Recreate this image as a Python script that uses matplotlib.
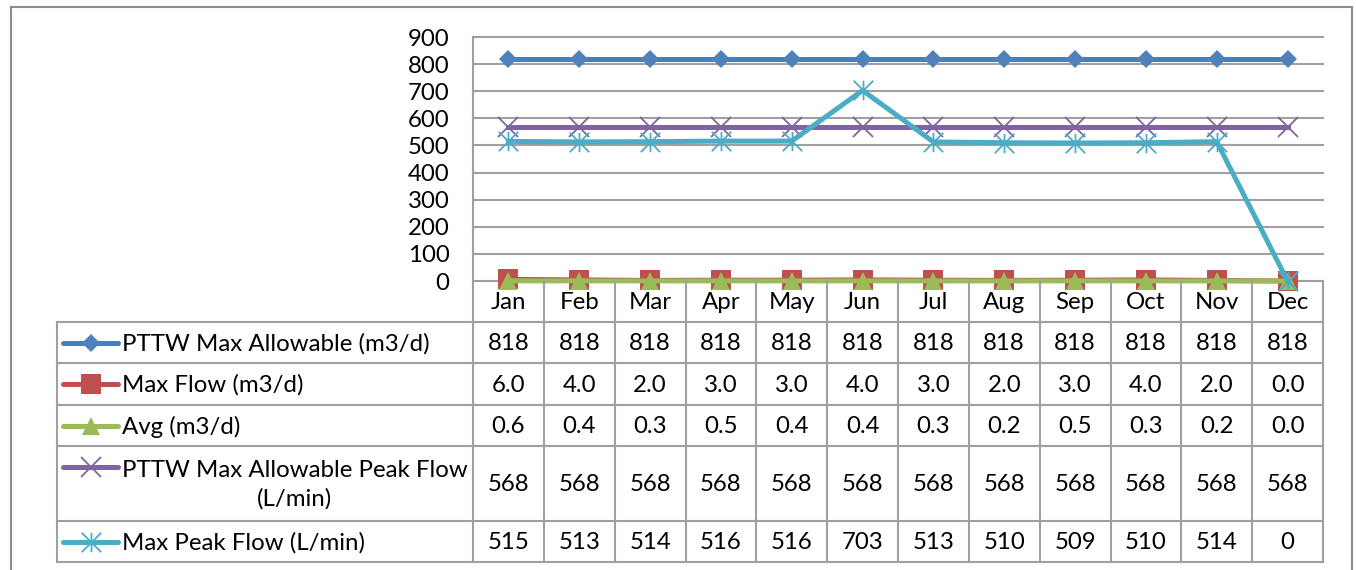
import matplotlib
matplotlib.use("Agg")
import matplotlib.pyplot as plt
from matplotlib.path import Path
from matplotlib.lines import Line2D

plt.rcParams['font.family'] = ['Lato', 'DejaVu Sans']

months = ["Jan", "Feb", "Mar", "Apr", "May", "Jun",
          "Jul", "Aug", "Sep", "Oct", "Nov", "Dec"]
pttw_max = [818, 818, 818, 818, 818, 818, 818, 818, 818, 818, 818, 818]
max_flow = [6.0, 4.0, 2.0, 3.0, 3.0, 4.0, 3.0, 2.0, 3.0, 4.0, 2.0, 0.0]
avg_flow = [0.6, 0.4, 0.3, 0.5, 0.4, 0.4, 0.3, 0.2, 0.5, 0.3, 0.2, 0.0]
pttw_peak = [568, 568, 568, 568, 568, 568, 568, 568, 568, 568, 568, 568]
max_peak = [515, 513, 514, 516, 516, 703, 513, 510, 509, 510, 514, 0]

series_names = ["PTTW Max Allowable (m3/d)", "Max Flow (m3/d)", "Avg (m3/d)",
                "PTTW Max Allowable Peak Flow\n(L/min)", "Max Peak Flow (L/min)"]
yticks = [0, 100, 200, 300, 400, 500, 600, 700, 800, 900]

# asterisk marker like excel's: an x with a vertical bar
star = Path([(-1, -1), (1, 1), (-1, 1), (1, -1), (0, -1), (0, 1)],
            [Path.MOVETO, Path.LINETO, Path.MOVETO, Path.LINETO,
             Path.MOVETO, Path.LINETO])

colors = ["#4A7EBB", "#C0504D", "#9BBB59", "#8064A2", "#4BACC6"]
markers = [
    dict(marker="D", ms=9.5, mfc="#4F81BD", mec="#4F81BD", mew=0),
    dict(marker="s", ms=14, mfc="#C0504D", mec="#C0504D", mew=0),
    dict(marker="^", ms=13.5, mfc="#9BBB59", mec="#9BBB59", mew=0),
    dict(marker="x", ms=14, mec="#8064A2", mew=1.3),
    dict(marker=star, ms=14, mec="#4BACC6", mew=1.3),
]
data = [pttw_max, max_flow, avg_flow, pttw_peak, max_peak]
fmts = ["{:.0f}", "{:.1f}", "{:.1f}", "{:.0f}", "{:.0f}"]

W, H = 1356, 570
fig = plt.figure(figsize=(W / 100, H / 100), dpi=100)
grid_c = "#A0A0A0"
text_fs = 17.3
line_w = 3.6


def fx(px):
    return px / W


def fy(py):
    return 1 - py / H


# plot area in pixels
pl, pr, pt, pb = 473, 1323, 37, 281
ax = fig.add_axes([fx(pl), fy(pb), fx(pr - pl), (pb - pt) / H])
ax.set_xlim(-0.5, 11.5)
ax.set_ylim(0, 900)
ax.set_yticks(yticks)
ax.set_xticks([])
for s in ax.spines.values():
    s.set_visible(False)
ax.tick_params(axis="y", length=0, pad=17, labelsize=text_fs)
for t in yticks:
    ax.axhline(t, color=grid_c, lw=1.5, zorder=1, clip_on=False)

x = list(range(len(months)))
for vals, c, mk in zip(data, colors, markers):
    ax.plot(x, vals, color=c, lw=line_w, clip_on=False, zorder=3, **mk)

# data table below the plot
unit = (pr - pl) / 12
tl, tb = 57, 562
rows = [322, 363, 405, 446, 521, 562]
tax = fig.add_axes([fx(tl), fy(tb), fx(pr - tl), (tb - pb) / H])
tax.set_xlim(-0.5 - (pl - tl) / unit, 11.5)
tax.set_ylim(tb, pb)
tax.axis("off")


def dx(px):
    return -0.5 + (px - pl) / unit


for r in rows:
    tax.plot([dx(tl), 11.5], [r, r], color=grid_c, lw=1.5, clip_on=False)
tax.plot([dx(tl), dx(tl)], [rows[0], tb], color=grid_c, lw=1.5, clip_on=False)
tax.plot([-0.5, -0.5], [pt, tb], color=grid_c, lw=1.5, clip_on=False)
for i in range(12):
    tax.plot([i + 0.5, i + 0.5], [pb, tb], color=grid_c, lw=1.5, clip_on=False)

for i, m in enumerate(months):
    tax.text(i, (pb + rows[0]) / 2 + 1, m, ha="center", va="center", fontsize=text_fs)

for k, (vals, c, mk, name, f) in enumerate(zip(data, colors, markers, series_names, fmts)):
    y0, y1 = rows[k], rows[k + 1]
    yc = (y0 + y1) / 2
    for i, v in enumerate(vals):
        tax.text(i, yc + 1, f.format(v), ha="center", va="center", fontsize=text_fs)
    ly = yc if "\n" not in name else y0 + 21
    # legend key: line then one marker in the middle
    tax.add_line(Line2D([dx(63), dx(118)], [ly, ly], color=c, lw=line_w,
                        solid_capstyle="round", clip_on=False))
    tax.add_line(Line2D([dx(90.5)], [ly], lw=0, clip_on=False, **mk))
    tax.text(dx(122), yc + 1, name, ha="left", va="center", fontsize=text_fs,
             multialignment="center", linespacing=1.4)

# outer chart border
border_c = "#8C8C8C"
fig.add_artist(Line2D([fx(11), fx(11)], [fy(7), 0], color=border_c, lw=1.5))
fig.add_artist(Line2D([fx(11), fx(1352)], [fy(7), fy(7)], color=border_c, lw=1.5))
fig.add_artist(Line2D([fx(1352), fx(1352)], [fy(7), 0], color=border_c, lw=1.5))

fig.savefig("out.png", dpi=100)
